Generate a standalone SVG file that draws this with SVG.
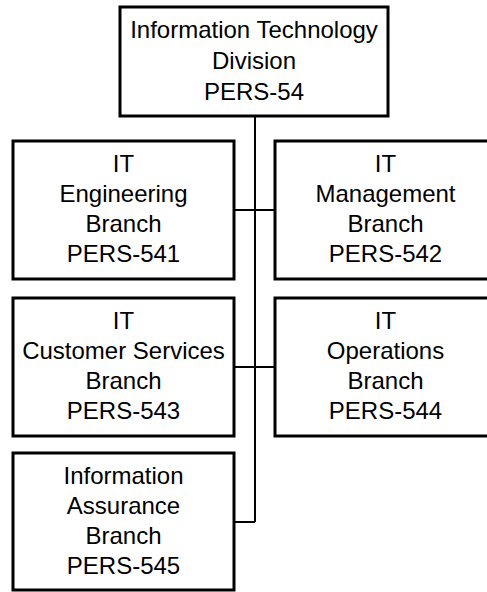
<svg xmlns="http://www.w3.org/2000/svg" width="487" height="592" viewBox="0 0 487 592">
<style>
.box{fill:#fff;stroke:#000;stroke-width:3}
.t{font-family:"Liberation Sans",Arial,sans-serif;font-size:24px;fill:#000;text-anchor:middle}
.c{stroke:#000;stroke-width:2;fill:none}
</style>
<rect width="487" height="592" fill="#fff"/>
<g id="connectors">
<path class="c" d="M255 116 V522 M234 210 H275 M234 367 H275 M234 522 H255"/>
</g>
<g id="n54">
<rect class="box" x="120" y="7" width="268" height="109"/>
<text class="t" x="254" y="38">Information Technology</text>
<text class="t" x="254" y="69">Division</text>
<text class="t" x="254" y="100">PERS-54</text>
</g>
<g id="n541">
<rect class="box" x="13" y="141" width="221" height="138"/>
<text class="t" x="123.5" y="172">IT</text>
<text class="t" x="123.5" y="202">Engineering</text>
<text class="t" x="123.5" y="232">Branch</text>
<text class="t" x="123.5" y="262">PERS-541</text>
</g>
<g id="n542">
<rect class="box" x="275" y="141" width="221" height="138"/>
<text class="t" x="385.5" y="172">IT</text>
<text class="t" x="385.5" y="202">Management</text>
<text class="t" x="385.5" y="232">Branch</text>
<text class="t" x="385.5" y="262">PERS-542</text>
</g>
<g id="n543">
<rect class="box" x="13" y="298" width="221" height="138"/>
<text class="t" x="123.5" y="329">IT</text>
<text class="t" x="123.5" y="359">Customer Services</text>
<text class="t" x="123.5" y="389">Branch</text>
<text class="t" x="123.5" y="419">PERS-543</text>
</g>
<g id="n544">
<rect class="box" x="275" y="298" width="221" height="138"/>
<text class="t" x="385.5" y="329">IT</text>
<text class="t" x="385.5" y="359">Operations</text>
<text class="t" x="385.5" y="389">Branch</text>
<text class="t" x="385.5" y="419">PERS-544</text>
</g>
<g id="n545">
<rect class="box" x="13" y="453" width="221" height="137"/>
<text class="t" x="123.5" y="484">Information</text>
<text class="t" x="123.5" y="514">Assurance</text>
<text class="t" x="123.5" y="544">Branch</text>
<text class="t" x="123.5" y="574">PERS-545</text>
</g>
</svg>
